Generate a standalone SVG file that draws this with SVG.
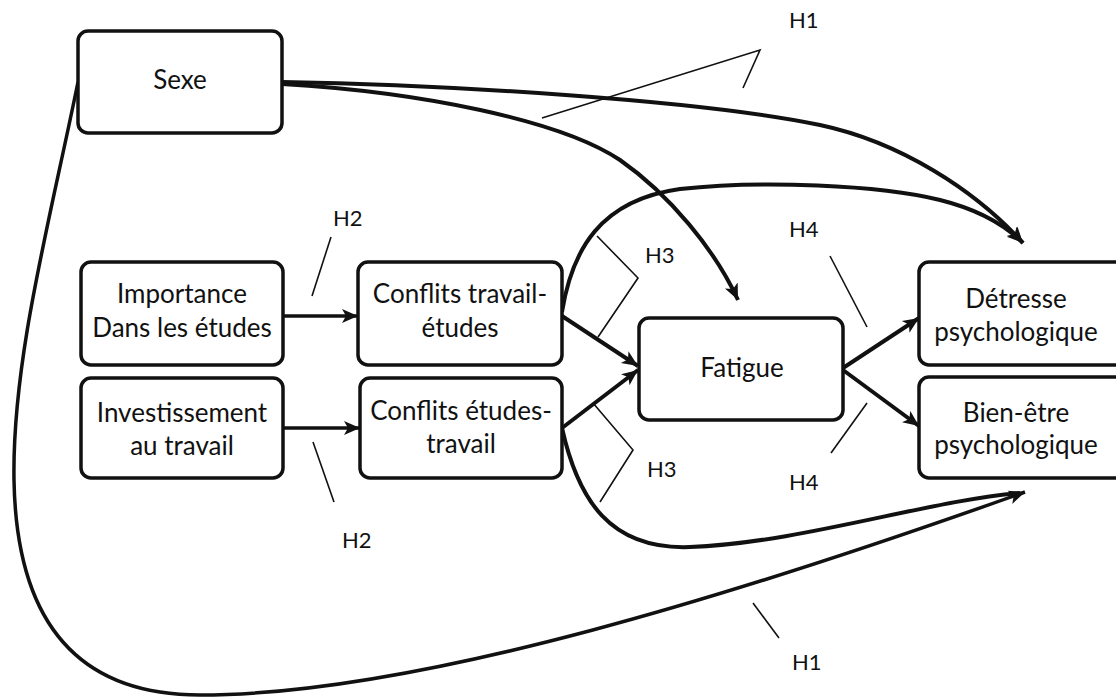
<svg xmlns="http://www.w3.org/2000/svg" width="1116" height="697" viewBox="0 0 1116 697">
<style>
.box{fill:#fff;stroke:#111;stroke-width:3.5}
.t{font-family:Lato,"Liberation Sans",sans-serif;font-size:26px;fill:#111;text-anchor:middle}
.h{font-family:Lato,"Liberation Sans",sans-serif;font-size:22px;fill:#111}
.c{fill:none;stroke:#111;stroke-width:4}
.s{fill:none;stroke:#111;stroke-width:3.5}
.thin{fill:none;stroke:#111;stroke-width:1.6}
</style>
<defs>
<marker id="ah" markerUnits="userSpaceOnUse" markerWidth="18" markerHeight="16" refX="16" refY="8" orient="auto">
<path d="M0,1 L16,8 L0,15 L4,8 z" fill="#111"/>
</marker>
</defs>
<rect width="1116" height="697" fill="#fff"/>
<g id="connectors">
<path class="c" d="M282,82 C450,85 700,100 820,125 C900,142 975,190 1023,243" marker-end="url(#ah)"/>
<path class="c" d="M282,84 C420,92 560,120 620,160 C670,195 715,250 738,300" marker-end="url(#ah)"/>
<path class="c" d="M562,312 C572,250 600,200 680,189 C760,180 880,185 940,200 C980,210 1005,225 1023,243" marker-end="url(#ah)"/>
<path class="c" d="M562,428 C578,500 610,550 690,547 C800,543 930,500 1020,493"/>
<path class="s" d="M78,82 C50,220 12,360 14,480 C16,600 60,695 200,695 C420,695 750,590 1025,492" marker-end="url(#ah)"/>
<path class="s" d="M283,316 L358,316" marker-end="url(#ah)"/>
<path class="s" d="M283,428 L360,428" marker-end="url(#ah)"/>
<path class="c" d="M562,316 L638,366" marker-end="url(#ah)"/>
<path class="c" d="M562,428 L638,370" marker-end="url(#ah)"/>
<path class="c" d="M843,368 L919,318" marker-end="url(#ah)"/>
<path class="c" d="M843,370 L919,426" marker-end="url(#ah)"/>
</g>
<g id="hypotheses">
<path class="thin" d="M542,118 L760,50 L743,88"/>
<path class="thin" d="M753,603 L779,638"/>
<path class="thin" d="M331,237 L312,296"/>
<path class="thin" d="M313,442 L334,502"/>
<path class="thin" d="M597,236 L638,278 L598,337"/>
<path class="thin" d="M593,403 L633,450 L600,502"/>
<path class="thin" d="M830,256 L867,327"/>
<path class="thin" d="M867,403 L831,453"/>
<text class="h" x="789" y="28">H1</text>
<text class="h" x="792" y="670">H1</text>
<text class="h" x="333" y="226">H2</text>
<text class="h" x="342" y="548">H2</text>
<text class="h" x="645" y="263">H3</text>
<text class="h" x="647" y="477">H3</text>
<text class="h" x="789" y="237">H4</text>
<text class="h" x="789" y="490">H4</text>
</g>
<g id="sexe"><rect class="box" x="78" y="31" width="204" height="102" rx="10"/><text class="t" x="180" y="89">Sexe</text></g>
<g id="importance"><rect class="box" x="81" y="262" width="202" height="103" rx="10"/><text class="t" x="182" y="303">Importance</text><text class="t" x="182" y="337">Dans les études</text></g>
<g id="investissement"><rect class="box" x="81" y="378" width="202" height="100" rx="10"/><text class="t" x="182" y="422">Investissement</text><text class="t" x="182" y="455">au travail</text></g>
<g id="conflits-te"><rect class="box" x="358" y="262" width="204" height="103" rx="10"/><text class="t" x="460" y="303">Conflits travail-</text><text class="t" x="460" y="337">études</text></g>
<g id="conflits-et"><rect class="box" x="360" y="378" width="202" height="100" rx="10"/><text class="t" x="461" y="420">Conflits études-</text><text class="t" x="461" y="453">travail</text></g>
<g id="fatigue"><rect class="box" x="639" y="318" width="204" height="102" rx="10"/><text class="t" x="742" y="377">Fatigue</text></g>
<g id="detresse"><rect class="box" x="919" y="262" width="215" height="103" rx="10"/><text class="t" x="1016" y="308">Détresse</text><text class="t" x="1016" y="341">psychologique</text></g>
<g id="bienetre"><rect class="box" x="919" y="377" width="215" height="101" rx="10"/><text class="t" x="1016" y="422">Bien-être</text><text class="t" x="1016" y="454">psychologique</text></g>
</svg>
